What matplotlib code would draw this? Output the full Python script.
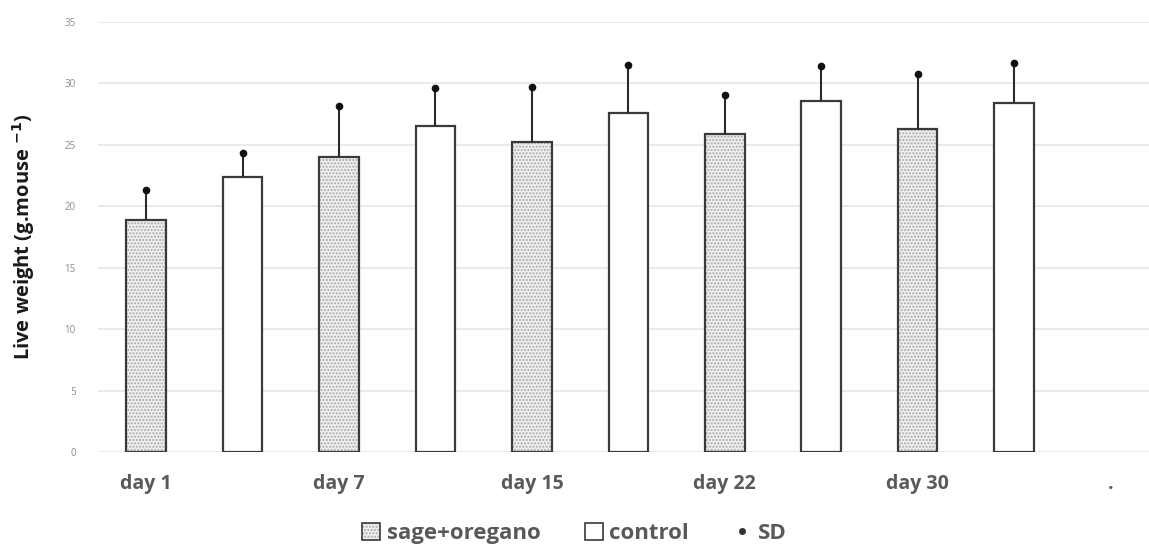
import numpy as np
import matplotlib.pyplot as plt
from matplotlib.patches import Patch
from matplotlib.lines import Line2D

plt.rcParams['font.family'] = ['Open Sans', 'DejaVu Sans']

# Datos
days = ["day 1", "day 7", "day 15", "day 22", "day 30", "."]
sage = [18.9, 24.0, 25.2, 25.9, 26.3]
sage_sd = [2.4, 4.2, 4.5, 3.2, 4.5]
control = [22.4, 26.5, 27.6, 28.6, 28.4]
control_sd = [1.9, 3.1, 3.9, 2.8, 3.3]

n = len(sage)
x_sage = np.arange(n) * 2
x_ctrl = np.arange(n) * 2 + 1

fig = plt.figure(figsize=(11.49, 5.45), dpi=100)
ax = fig.add_axes([0.0853, 0.1706, 0.9147, 0.789])

w = 0.41
edge = '#3a3a3a'
# capa con la trama punteada
ax.bar(x_sage, sage, width=w, facecolor='#efefef', edgecolor='#a8a8a8',
       hatch='.....', linewidth=0, zorder=2)
ax.bar(x_sage, sage, width=w, facecolor='none', edgecolor=edge,
       linewidth=1.6, zorder=3)
ax.bar(x_ctrl, control, width=w, facecolor='white', edgecolor=edge,
       linewidth=1.6, zorder=3)

# barras de error (solo hacia arriba) con punto al final
x_all = np.concatenate([x_sage, x_ctrl])
y_all = np.concatenate([sage, control])
sd_all = np.concatenate([sage_sd, control_sd])
ax.errorbar(x_all, y_all, yerr=[np.zeros(len(sd_all)), sd_all], fmt='none',
            ecolor='#2a2a2a', elinewidth=1.5, capsize=0, zorder=4)
ax.plot(x_all, y_all + sd_all, 'o', color='#111111', markersize=4.5,
        zorder=5, linestyle='none')

ax.set_ylim(0, 35)
ax.set_xlim(-0.5, 10.4)
ax.set_yticks(range(0, 36, 5))
ax.yaxis.grid(True, color='#e6e6e6', linewidth=1.2)
ax.set_axisbelow(True)
for s in ax.spines.values():
    s.set_visible(False)

ax.set_xticks(np.arange(len(days)) * 2)
ax.set_xticklabels(days, fontsize=14, fontweight='bold', color='#595959')
ax.tick_params(axis='x', length=0, pad=16)
ax.tick_params(axis='y', length=0, pad=16, labelsize=7, labelcolor='#8c8c8c')

ax.set_ylabel("Live weight (g.mouse $^{\\mathbf{-1}}$)", fontsize=14.5,
              fontweight='bold', color='#1a1a1a', labelpad=20)

# leyenda
h_sage = (Patch(facecolor='#efefef', edgecolor='#a8a8a8', hatch='.....', linewidth=0),
          Patch(facecolor='none', edgecolor=edge, linewidth=1.2))
h_ctrl = Patch(facecolor='white', edgecolor=edge, linewidth=1.2)
h_sd = Line2D([], [], marker='o', color='#333333', linestyle='none', markersize=4)
fig.legend([h_sage, h_ctrl, h_sd], ["sage+oregano", "control", "SD"],
           loc='lower center', bbox_to_anchor=(0.5, -0.035), ncol=3, frameon=False,
           prop={'size': 16, 'weight': 'bold'}, labelcolor='#595959',
           handlelength=0.8, handleheight=0.8, handletextpad=0.3, columnspacing=2.0)

plt.savefig("out.png", dpi=100)
